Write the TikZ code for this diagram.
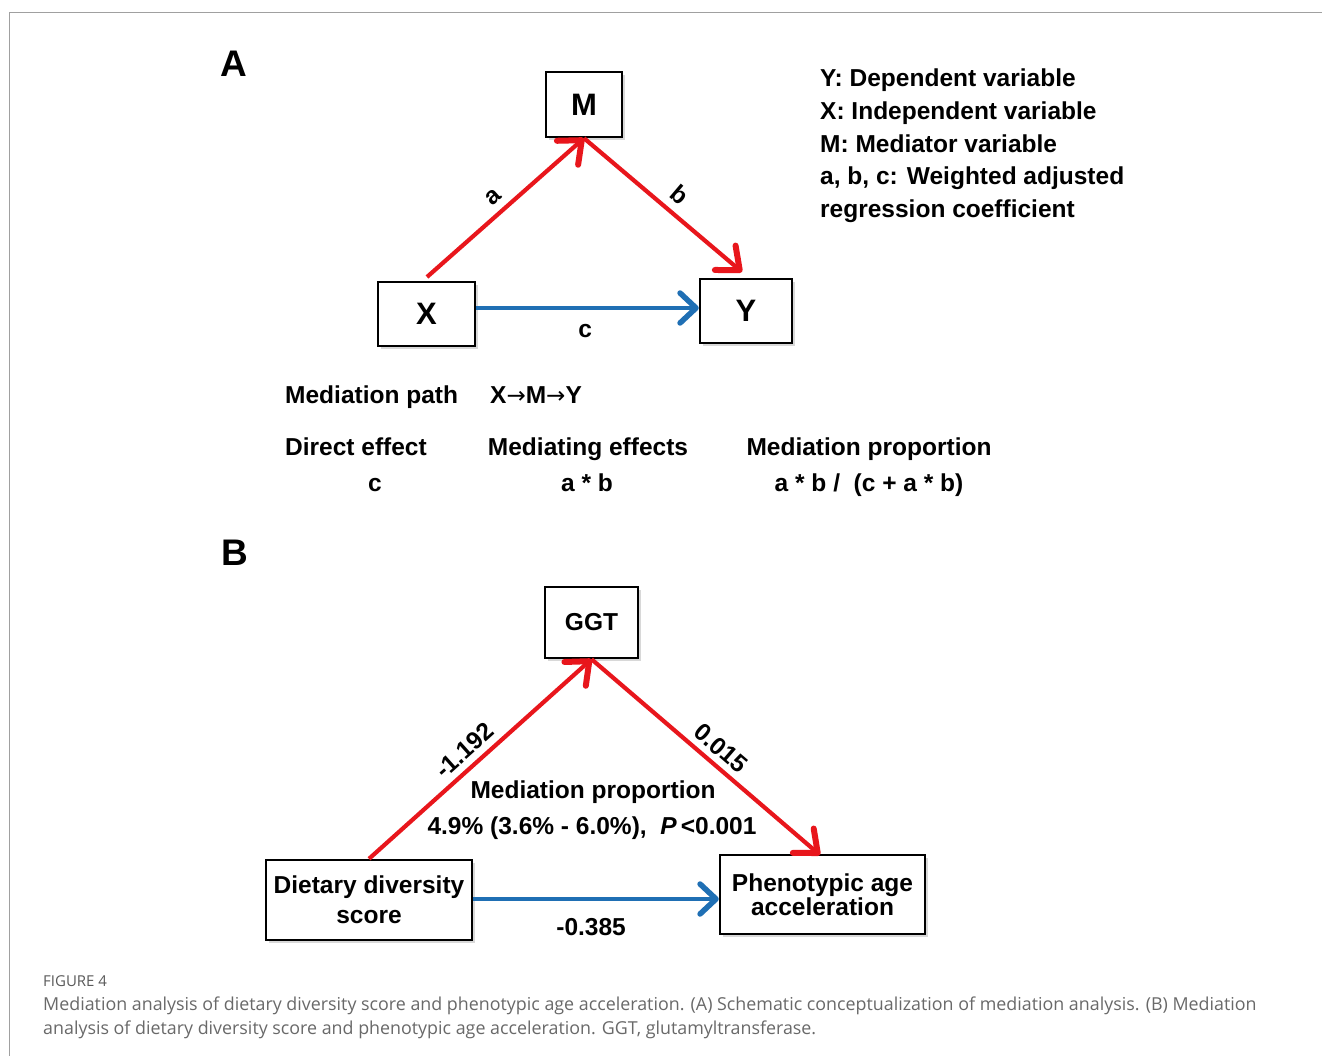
\documentclass[tikz,border=0pt]{standalone}
\usepackage{fontspec}
\setmainfont{Liberation Sans}
\newfontfamily\capfont{Open Sans}
\newfontfamily\symfont{DejaVu Sans}
\usetikzlibrary{arrows.meta,shadows}
\definecolor{redA}{RGB}{232,22,28}
\definecolor{blueA}{RGB}{31,111,180}
\definecolor{frameg}{RGB}{160,160,160}
\definecolor{capg}{RGB}{105,105,105}
\definecolor{capdark}{RGB}{90,90,90}
\begin{document}
\begin{tikzpicture}[x=1pt,y=-1pt,
  txt/.style={font=\fontsize{24.5}{26}\selectfont\bfseries, inner sep=0pt},
  box/.style={draw, line width=2.4pt, fill=white, inner sep=0pt, align=center,
    font=\fontsize{24.5}{26}\selectfont\bfseries,
    drop shadow={shadow xshift=3pt, shadow yshift=-3pt, opacity=0.3, fill=gray}},
  bigbox/.style={box, font=\fontsize{31}{33}\selectfont\bfseries},
  redarrow/.style={draw=redA, line width=4.2pt, -{Straight Barb[length=19pt,width=32pt,round,line width=6pt 0]}},
  bluearrow/.style={draw=blueA, line width=3.8pt, -{Straight Barb[length=16pt,width=30pt,round,line width=5.5pt 0]}},
  panel/.style={font=\fontsize{37}{39}\selectfont\bfseries, inner sep=0pt, anchor=base west},
  captxt/.style={font=\capfont\fontsize{17.85}{24}\selectfont, text=capg, inner sep=0pt, anchor=base west}
]
\useasboundingbox (0,0) rectangle (1322,1056);
\fill[white] (0,0) rectangle (1322,1056);
% frame
\draw[frameg, line width=1.4pt] (9.5,1056) -- (9.5,12.5) -- (1322,12.5);

% ---------- Panel A ----------
\node[panel] (pA) at (220,77) {A};
\node[bigbox, minimum width=76pt, minimum height=65pt] (M) at (584,104.5) {M};
\node[bigbox, minimum width=97pt, minimum height=64pt] (X) at (426.5,314) {X};
\node[bigbox, minimum width=92pt, minimum height=64pt] (Y) at (746,311) {Y};
\coordinate (aStart) at (427,277);
\coordinate (bEnd) at (742,272);
\draw[redarrow] (aStart) -- node[txt, sloped, above=7pt, pos=0.49] (la) {a} (M.south);
\draw[redarrow] (M.south) -- node[txt, sloped, above=8pt, pos=0.53] (lb) {b} (bEnd);
\draw[bluearrow] (X.east |- 0,308) coordinate (cStart) -- node[txt, below=14pt, pos=0.49] (lc) {c} (Y.west |- 0,308);

\node[txt, anchor=base west] (l1) at (820,87) {Y: Dependent variable};
\node[txt, anchor=base west] (l2) at (820,120) {X: Independent variable};
\node[txt, anchor=base west] (l3) at (820,153) {M: Mediator variable};
\node[txt, anchor=base west] (l4) at (820,185) {a, b, c: Weighted adjusted};
\node[txt, anchor=base west] (l5) at (820,218) {regression coefficient};

\node[txt, anchor=base west] (mp) at (285,403) {Mediation path};
\node[txt, anchor=base west] (xmy) at (490,403) {X{\symfont\fontsize{23}{24}\selectfont\mdseries →}M{\symfont\fontsize{23}{24}\selectfont\mdseries →}Y};
\node[txt, anchor=base] (de) at (356,455) {Direct effect};
\node[txt, anchor=base] (dec) at (375,491) {c};
\node[txt, anchor=base] (me) at (588,455) {Mediating effects};
\node[txt, anchor=base] (mec) at (587,491) {a * b};
\node[txt, anchor=base] (mpr) at (869,455) {Mediation proportion};
\node[txt, anchor=base] (mprc) at (869,491) {a * b /\ \ (c + a * b)};

% ---------- Panel B ----------
\node[panel] (pB) at (221,565) {B};
\node[box, minimum width=93pt, minimum height=71pt] (GGT) at (591.5,622.5) {GGT};
\node[box, minimum width=206pt, minimum height=80pt, font=\fontsize{24.5}{30}\selectfont\bfseries] (DDS) at (369,900) {Dietary diversity\\score};
\node[box, minimum width=205pt, minimum height=79pt, font=\fontsize{24.5}{24}\selectfont\bfseries] (PAA) at (822.5,894.5) {Phenotypic age\\acceleration};
\coordinate (pEnd) at (820,855);
\draw[redarrow] (DDS.north) -- node[txt, sloped, above=6pt, pos=0.48] (lm1) {-1.192} (GGT.south);
\draw[redarrow] (GGT.south) -- node[txt, sloped, above=6pt, pos=0.52] (lm2) {0.015} (pEnd);
\draw[bluearrow] (DDS.east |- 0,899) -- node[txt, below=17pt, pos=0.48] (lm3) {-0.385} (PAA.west |- 0,899);
\node[txt, anchor=base] (mpB) at (593,798) {Mediation proportion};
\node[txt, anchor=base] (mpBv) at (592,834) {4.9\% (3.6\% - 6.0\%),\ \ \textit{P}\,<0.001};

% ---------- Caption ----------
\node[captxt, font=\capfont\fontsize{15}{16}\selectfont, text=capdark] (fig) at (43,986) {FIGURE 4};
\node[captxt] (cap1) at (43,1010) {Mediation analysis of dietary diversity score and phenotypic age acceleration. (A) Schematic conceptualization of mediation analysis. (B) Mediation};
\node[captxt] (cap2) at (43,1034) {analysis of dietary diversity score and phenotypic age acceleration. GGT, glutamyltransferase.};
\end{tikzpicture}
\end{document}
